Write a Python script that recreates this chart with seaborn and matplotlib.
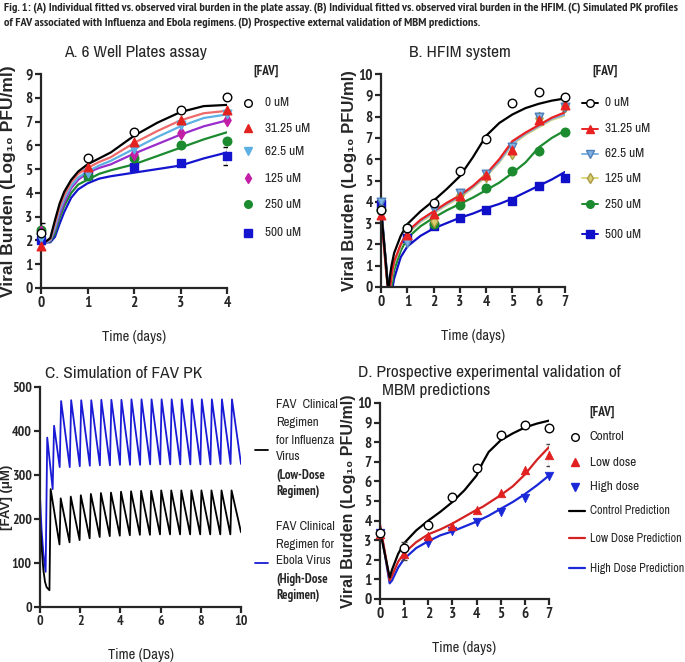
import numpy as np
import pandas as pd
import matplotlib
matplotlib.use("Agg")
import matplotlib.pyplot as plt
from matplotlib.lines import Line2D
import seaborn as sns

sns.set_style("ticks")
NARROW = ['Archivo Narrow', 'Liberation Sans', 'DejaVu Sans']
BOLDN = ['PT Sans Narrow', 'Archivo Narrow', 'Liberation Sans', 'DejaVu Sans']
WIDE = ['Liberation Sans', 'DejaVu Sans']
plt.rcParams['font.family'] = NARROW
plt.rcParams['axes.linewidth'] = 1.6

W, H = 685, 662

# ---------------- A. 6 well plates ----------------
days_a = [0, 1, 2, 3, 4]
a_obs = {
    '0 uM':     [2.3, 5.45, 6.55, 7.5, 8.05],
    '31.25 uM': [1.75, 5.1, 6.15, 7.05, 7.5],
    '62.5 uM':  [2.1, 4.85, 5.85, 6.85, 7.3],
    '125 uM':   [2.35, 4.9, 5.65, 6.5, 7.05],
    '250 uM':   [2.45, 4.7, 5.45, 6.0, 6.2],
    '500 uM':   [2.0, 4.75, 5.1, 5.25, 5.55],
}
fit_t_a = [0, 0.1, 0.2, 0.3, 0.4, 0.5, 0.65, 0.8, 1.0, 1.25, 1.5, 2.0, 2.5, 3.0, 3.5, 4.0]
a_fit = {
    '0 uM':     [2.0, 1.95, 2.1, 2.85, 3.55, 4.05, 4.55, 4.9, 5.2, 5.45, 5.7, 6.4, 6.95, 7.4, 7.65, 7.7],
    '31.25 uM': [2.0, 1.95, 2.05, 2.7, 3.4, 3.9, 4.45, 4.8, 5.05, 5.3, 5.5, 6.1, 6.6, 7.05, 7.35, 7.45],
    '62.5 uM':  [2.0, 1.93, 2.0, 2.55, 3.25, 3.75, 4.3, 4.65, 4.9, 5.15, 5.35, 5.85, 6.35, 6.8, 7.15, 7.3],
    '125 uM':   [2.0, 1.93, 1.98, 2.45, 3.1, 3.6, 4.2, 4.55, 4.85, 5.05, 5.2, 5.65, 6.05, 6.45, 6.8, 7.05],
    '250 uM':   [2.0, 1.92, 1.95, 2.3, 2.95, 3.45, 4.0, 4.35, 4.55, 4.8, 4.95, 5.2, 5.55, 5.9, 6.25, 6.55],
    '500 uM':   [2.0, 1.92, 1.92, 2.15, 2.7, 3.2, 3.8, 4.15, 4.4, 4.6, 4.7, 4.85, 5.0, 5.15, 5.45, 5.7],
}

# ---------------- B. HFIM ----------------
days_b = [0, 1, 2, 3, 4, 5, 6, 7]
b_obs = {
    '0 uM':     [3.6, 2.75, 3.95, 5.45, 6.95, 8.65, 9.15, 8.9],
    '31.25 uM': [3.4, 2.45, 3.45, 4.25, 5.25, 6.45, 7.85, 8.55],
    '62.5 uM':  [4.0, 2.05, 3.65, 4.4, 5.3, 6.55, 8.0, 8.45],
    '125 uM':   [3.65, 2.3, 3.1, 4.3, 5.2, 6.3, 7.95, 8.5],
    '250 uM':   [3.6, 2.75, 2.95, 3.85, 4.65, 5.45, 6.4, 7.3],
    '500 uM':   [3.9, 2.3, 2.85, 3.25, 3.6, 4.05, 4.75, 5.1],
}
fit_t_b = [0, 0.1, 0.2, 0.25, 0.3, 0.35, 0.4, 0.45, 0.5, 0.75, 1, 1.5, 2, 2.5, 3, 3.5, 4, 4.5, 5, 5.5, 6, 6.5, 7]
b_fit = {
    '0 uM':     [3.6, 2.3, 0.9, 0.1, 0.0, 0.6, 1.0, 1.3, 1.6, 2.4, 2.95, 3.55, 4.05, 4.6, 5.2, 6.1, 7.1, 7.7, 8.1, 8.4, 8.6, 8.75, 8.85],
    '31.25 uM': [3.4, 2.1, 0.7, 0.1, 0.0, 0.0, 0.5, 0.9, 1.2, 2.0, 2.6, 3.15, 3.55, 3.95, 4.3, 4.75, 5.3, 6.0, 6.85, 7.25, 7.6, 7.95, 8.2],
    '62.5 uM':  [3.5, 2.1, 0.7, 0.1, 0.0, 0.0, 0.45, 0.85, 1.15, 1.95, 2.55, 3.1, 3.5, 3.9, 4.25, 4.7, 5.25, 5.9, 6.75, 7.2, 7.55, 7.9, 8.1],
    '125 uM':   [3.5, 2.1, 0.7, 0.1, 0.0, 0.0, 0.4, 0.8, 1.1, 1.9, 2.5, 3.05, 3.45, 3.85, 4.2, 4.65, 5.2, 5.85, 6.7, 7.15, 7.5, 7.85, 8.05],
    '250 uM':   [3.6, 2.3, 0.9, 0.2, 0.0, 0.0, 0.0, 0.4, 0.8, 1.7, 2.3, 2.85, 3.25, 3.6, 3.9, 4.2, 4.55, 4.9, 5.35, 5.85, 6.55, 7.0, 7.35],
    '500 uM':   [3.9, 2.4, 1.0, 0.3, 0.0, 0.0, 0.0, 0.05, 0.4, 1.4, 1.9, 2.4, 2.75, 3.0, 3.25, 3.45, 3.7, 3.9, 4.15, 4.45, 4.75, 5.05, 5.4],
}

# ---------------- C. PK simulation ----------------
pk_t_low = [0, 0.08, 0.17, 0.25, 0.33, 0.47, 0.53, 0.97, 1.03, 1.47, 1.53, 1.97, 2.03, 2.47, 2.53, 2.97, 3.03,
            3.47, 3.53, 3.97, 4.03, 4.47, 4.53, 4.97, 5.03, 5.47, 5.53, 5.97, 6.03, 6.47, 6.53, 6.97, 7.03,
            7.47, 7.53, 7.97, 8.03, 8.47, 8.53, 8.97, 9.03, 9.47, 9.53, 10.0]
pk_low = [190, 136, 83, 57, 45, 38, 268, 142, 247, 147, 251, 152, 254, 156, 257, 159, 259,
          161, 260, 162, 262, 163, 263, 164, 264, 164, 264, 165, 265, 165, 265, 165, 265,
          165, 265, 165, 265, 165, 265, 165, 265, 165, 265, 170]
pk_t_high = [0, 0.08, 0.17, 0.28, 0.36, 0.63, 0.70, 0.98, 1.05, 1.48, 1.55, 1.98, 2.05, 2.48, 2.55, 2.98, 3.05,
             3.48, 3.55, 3.98, 4.05, 4.48, 4.55, 4.98, 5.05, 5.48, 5.55, 5.98, 6.05, 6.48, 6.55, 6.98, 7.05,
             7.48, 7.55, 7.98, 8.05, 8.48, 8.55, 8.98, 9.05, 9.48, 9.55, 10.0]
pk_high = [250, 174, 121, 80, 385, 268, 412, 318, 468, 318, 470, 320, 470, 321, 470, 322, 471,
           322, 471, 323, 471, 323, 472, 323, 472, 324, 472, 324, 472, 324, 472, 324, 472,
           324, 472, 324, 472, 324, 472, 325, 472, 325, 472, 325]

# ---------------- D. validation ----------------
days_d = [0, 1, 2, 3, 4, 5, 6, 7]
d_ctrl = [3.35, 2.6, 3.8, 5.2, 6.7, 8.35, 8.9, 8.7]
d_low = [3.3, 2.3, 3.2, 3.7, 4.55, 5.4, 6.6, 7.35]
d_high = [3.35, 2.45, 2.85, 3.45, 3.95, 4.45, 5.15, 6.3]
pred_t = [0, 0.2, 0.4, 0.5, 0.75, 1, 1.5, 2, 2.5, 3, 3.5, 4, 4.25, 4.5, 5, 5.5, 6, 6.5, 7]
pred_ctrl = [3.5, 2.3, 1.1, 1.5, 2.3, 2.85, 3.5, 4.0, 4.45, 4.95, 5.55, 6.3, 6.95, 7.5, 8.1, 8.45, 8.75, 8.95, 9.1]
pred_low = [3.8, 2.4, 0.95, 1.2, 1.9, 2.35, 2.9, 3.3, 3.55, 3.85, 4.2, 4.55, 4.7, 4.9, 5.3, 5.75, 6.35, 7.1, 7.75]
pred_high = [3.7, 2.3, 0.8, 0.95, 1.6, 2.05, 2.6, 2.95, 3.25, 3.45, 3.7, 3.95, 4.1, 4.25, 4.6, 4.95, 5.35, 5.8, 6.3]

# styles: (marker, face, edge, line colour)
style_a = {
    '0 uM':     ('o', 'white', 'black', 'black'),
    '31.25 uM': ('^', '#e3221f', '#e3221f', '#ee6a6a'),
    '62.5 uM':  ('v', '#5cb0e4', '#5cb0e4', '#5cb0e4'),
    '125 uM':   ('d', '#c21ea6', '#c21ea6', '#9a2ccc'),
    '250 uM':   ('o', '#1c8a2e', '#1c8a2e', '#1c8a2e'),
    '500 uM':   ('s', '#1515cf', '#1515cf', '#1515cf'),
}
style_b = {
    '0 uM':     ('o', 'white', 'black', 'black'),
    '31.25 uM': ('^', '#e82222', '#e82222', '#e82222'),
    '62.5 uM':  ('v', '#7fb2e2', '#4f7fb8', '#7fb2e2'),
    '125 uM':   ('d', '#d8cf70', '#a89a40', '#ddd67a'),
    '250 uM':   ('o', '#1c8a2e', '#1c8a2e', '#1c8a2e'),
    '500 uM':   ('s', '#1010c8', '#1010c8', '#1010c8'),
}

LEG_FS = 9.5
YL_FS = 12.5


def fx(px):
    return px / W


def fy(py):
    return 1 - py / H


def style_axes(ax, xmax, ymax, xticks, yticks, fs=11):
    ax.set_xlim(0, xmax)
    ax.set_ylim(0, ymax)
    ax.set_xticks(xticks)
    ax.set_yticks(yticks)
    sns.despine(ax=ax)
    ax.tick_params(width=1.6, length=4, labelsize=fs, pad=2)
    for lbl in ax.get_xticklabels() + ax.get_yticklabels():
        lbl.set_family(BOLDN)
        lbl.set_fontweight('bold')


def legend_row(x, y, text, marker=None, face=None, edge=None, line=None, ms=6, lw=1.6, gap=17, fs=LEG_FS):
    if line is not None:
        fig.add_artist(Line2D([fx(x - 8), fx(x + 8)], [fy(y), fy(y)], color=line, lw=lw,
                              transform=fig.transFigure))
    if marker is not None:
        fig.add_artist(Line2D([fx(x)], [fy(y)], marker=marker, ms=ms, mfc=face, mec=edge, mew=1,
                              ls='none', transform=fig.transFigure))
    fig.text(fx(x + gap), fy(y), text, fontsize=fs, va='center', ha='left')


fig = plt.figure(figsize=(6.85, 6.62), dpi=100)

fig.text(fx(4), fy(8), "Fig. 1: (A) Individual fitted vs. observed viral burden in the plate assay. (B) Individual "
         "fitted vs. observed viral burden in the HFIM. (C) Simulated PK profiles",
         fontsize=8.95, fontweight='bold', family=BOLDN, va='center', ha='left')
fig.text(fx(4), fy(23), "of FAV associated with Influenza and Ebola regimens. (D) Prospective external "
         "validation of MBM predictions.", fontsize=8.95, fontweight='bold', family=BOLDN, va='center', ha='left')

ylab = 'Viral Burden (Log\u2081\u2080 PFU/ml)'

# ---- A ----
ax_a = fig.add_axes([fx(41), fy(288), (227 - 41) / W, (288 - 74) / H])
for name in ['500 uM', '250 uM', '125 uM', '62.5 uM', '31.25 uM', '0 uM']:
    mk, fc, ec, lc = style_a[name]
    sns.lineplot(x=fit_t_a, y=a_fit[name], ax=ax_a, color=lc, lw=1.6, estimator=None, sort=False)
for name in ['500 uM', '250 uM', '125 uM', '62.5 uM', '31.25 uM', '0 uM']:
    mk, fc, ec, lc = style_a[name]
    sns.scatterplot(x=days_a, y=a_obs[name], ax=ax_a, marker=mk, color=fc, edgecolor=ec,
                    linewidth=1, s=38, zorder=4, clip_on=False)
ax_a.errorbar([0], [a_obs['0 uM'][0]], yerr=[0.45], fmt='none', ecolor='black', lw=0.9, capsize=3, zorder=3)
ax_a.errorbar([4], [a_obs['500 uM'][4]], yerr=[0.38], fmt='none', ecolor='black', lw=0.9, capsize=3, zorder=3)
style_axes(ax_a, 4, 9, range(0, 5), range(0, 10))
ax_a.set_xlabel('Time (days)', fontsize=10.5, labelpad=14)
ax_a.set_ylabel(ylab, fontsize=YL_FS, fontweight='bold', family=WIDE)
ax_a.yaxis.set_label_coords((16 - 41) / 186, 0.5)
fig.text(fx(135), fy(53), 'A. 6 Well Plates assay', fontsize=12.5, ha='center', va='center')

fig.text(fx(253), fy(71), '[FAV]', fontsize=LEG_FS, fontweight='bold', family=BOLDN, va='center')
for name, yy in zip(style_a, [103, 128, 151, 178, 204, 233]):
    mk, fc, ec, lc = style_a[name]
    legend_row(248, yy, name, marker=mk, face=fc, edge=ec, ms=5.5)

# ---- B ----
ax_b = fig.add_axes([fx(381), fy(287), (565 - 381) / W, (287 - 74) / H])
for name in ['500 uM', '250 uM', '125 uM', '62.5 uM', '31.25 uM', '0 uM']:
    mk, fc, ec, lc = style_b[name]
    sns.lineplot(x=fit_t_b, y=b_fit[name], ax=ax_b, color=lc, lw=1.6, estimator=None, sort=False)
for name in ['500 uM', '250 uM', '125 uM', '62.5 uM', '31.25 uM', '0 uM']:
    mk, fc, ec, lc = style_b[name]
    sns.scatterplot(x=days_b, y=b_obs[name], ax=ax_b, marker=mk, color=fc, edgecolor=ec,
                    linewidth=1, s=38, zorder=4, clip_on=False)
ax_b.errorbar([7, 7], [b_obs['62.5 uM'][7], b_obs['125 uM'][7]], yerr=[0.2, 0.15], fmt='none',
              ecolor='#555555', lw=0.9, capsize=2.5, zorder=3)
style_axes(ax_b, 7, 10, range(0, 8), range(0, 11))
ax_b.set_xlabel('Time (days)', fontsize=10.5, labelpad=14)
ax_b.set_ylabel(ylab, fontsize=12, fontweight='bold', family=WIDE)
ax_b.yaxis.set_label_coords((357 - 381) / 184, 0.5)
fig.text(fx(460), fy(53), 'B. HFIM system', fontsize=12.5, ha='center', va='center')

fig.text(fx(592), fy(71), '[FAV]', fontsize=LEG_FS, fontweight='bold', family=BOLDN, va='center')
for name, yy in zip(style_b, [103, 129, 154, 178, 204, 234]):
    mk, fc, ec, lc = style_b[name]
    legend_row(590, yy, name, marker=mk, face=fc, edge=ec, line=lc, ms=5.5, lw=1.4, gap=15)

# ---- C ----
ax_c = fig.add_axes([fx(40), fy(607), (241 - 40) / W, (607 - 387) / H])
sns.lineplot(x=pk_t_high, y=pk_high, ax=ax_c, color='#1a1ad6', lw=1.3, estimator=None, sort=False)
sns.lineplot(x=pk_t_low, y=pk_low, ax=ax_c, color='black', lw=1.3, estimator=None, sort=False)
style_axes(ax_c, 10, 500, range(0, 11, 2), range(0, 501, 100), fs=10)
ax_c.set_xlabel('Time (Days)', fontsize=10.5, labelpad=14)
ax_c.set_ylabel('[FAV] (\u03bcM)', fontsize=9.5, fontweight='bold', family=WIDE)
ax_c.yaxis.set_label_coords((13 - 40) / 201, 0.5)
fig.text(fx(45), fy(374), 'C. Simulation of FAV PK', fontsize=12.5, ha='left', va='center')

low_lines = [('FAV  Clinical', 'normal'), ('Regimen', 'normal'), ('for Influenza', 'normal'),
             ('Virus', 'normal'), ('(Low-Dose', 'bold'), ('Regimen)', 'bold')]
high_lines = [('FAV Clinical', 'normal'), ('Regimen for', 'normal'), ('Ebola Virus', 'normal'),
              ('(High-Dose', 'bold'), ('Regimen)', 'bold')]
for (txt, wt), yy in zip(low_lines, [405, 422, 440, 457, 475, 492]):
    fig.text(fx(276), fy(yy), txt, fontsize=9.3, fontweight=wt,
             family=BOLDN if wt == 'bold' else NARROW, va='center')
for (txt, wt), yy in zip(high_lines, [527, 544, 561, 579, 596]):
    fig.text(fx(276), fy(yy), txt, fontsize=9.3, fontweight=wt,
             family=BOLDN if wt == 'bold' else NARROW, va='center')
fig.add_artist(Line2D([fx(255), fx(268)], [fy(450), fy(450)], color='black', lw=1.3, transform=fig.transFigure))
fig.add_artist(Line2D([fx(255), fx(268)], [fy(563), fy(563)], color='#1a1ad6', lw=1.3, transform=fig.transFigure))

# ---- D ----
ax_d = fig.add_axes([fx(380), fy(599), (549 - 380) / W, (599 - 403) / H])
sns.lineplot(x=pred_t, y=pred_high, ax=ax_d, color='#1a28d8', lw=1.6, estimator=None, sort=False)
sns.lineplot(x=pred_t, y=pred_low, ax=ax_d, color='#d42222', lw=1.6, estimator=None, sort=False)
sns.lineplot(x=pred_t, y=pred_ctrl, ax=ax_d, color='black', lw=1.6, estimator=None, sort=False)
sns.scatterplot(x=days_d, y=d_high, ax=ax_d, marker='v', color='#1a28d8', edgecolor='#1a28d8', s=38, zorder=4, clip_on=False)
sns.scatterplot(x=days_d, y=d_low, ax=ax_d, marker='^', color='#e22020', edgecolor='#e22020', s=38, zorder=4, clip_on=False)
sns.scatterplot(x=days_d, y=d_ctrl, ax=ax_d, marker='o', color='white', edgecolor='black', linewidth=1, s=38, zorder=5, clip_on=False)
ax_d.errorbar([1, 7], [d_high[1], d_low[7]], yerr=[0.45, 0.57], fmt='none', ecolor='#444444', lw=0.9, capsize=2.5, zorder=3)
style_axes(ax_d, 7, 10, range(0, 8), range(0, 11))
ax_d.set_xlabel('Time (days)', fontsize=10.5, labelpad=14)
ax_d.set_ylabel(ylab, fontsize=11.5, fontweight='bold', family=WIDE)
ax_d.yaxis.set_label_coords((356 - 380) / 169, 0.5)
fig.text(fx(358), fy(373), 'D. Prospective experimental validation of', fontsize=12.5, ha='left', va='center')
fig.text(fx(382), fy(390), 'MBM predictions', fontsize=12.5, ha='left', va='center')

fig.text(fx(589), fy(412), '[FAV]', fontsize=LEG_FS, fontweight='bold', family=BOLDN, va='center')
legend_row(575, 437, 'Control', marker='o', face='white', edge='black', ms=5.5, gap=15)
legend_row(575, 462, 'Low dose', marker='^', face='#e22020', edge='#e22020', ms=5.5, gap=15)
legend_row(575, 487, 'High dose', marker='v', face='#1a28d8', edge='#1a28d8', ms=5.5, gap=15)
legend_row(577, 511, 'Control Prediction', line='black', gap=13, fs=8.6)
legend_row(577, 538, 'Low Dose Prediction', line='#d42222', gap=13, fs=8.6)
legend_row(577, 568, 'High Dose Prediction', line='#1a28d8', gap=13, fs=8.6)

fig.savefig('out.png', dpi=100)
